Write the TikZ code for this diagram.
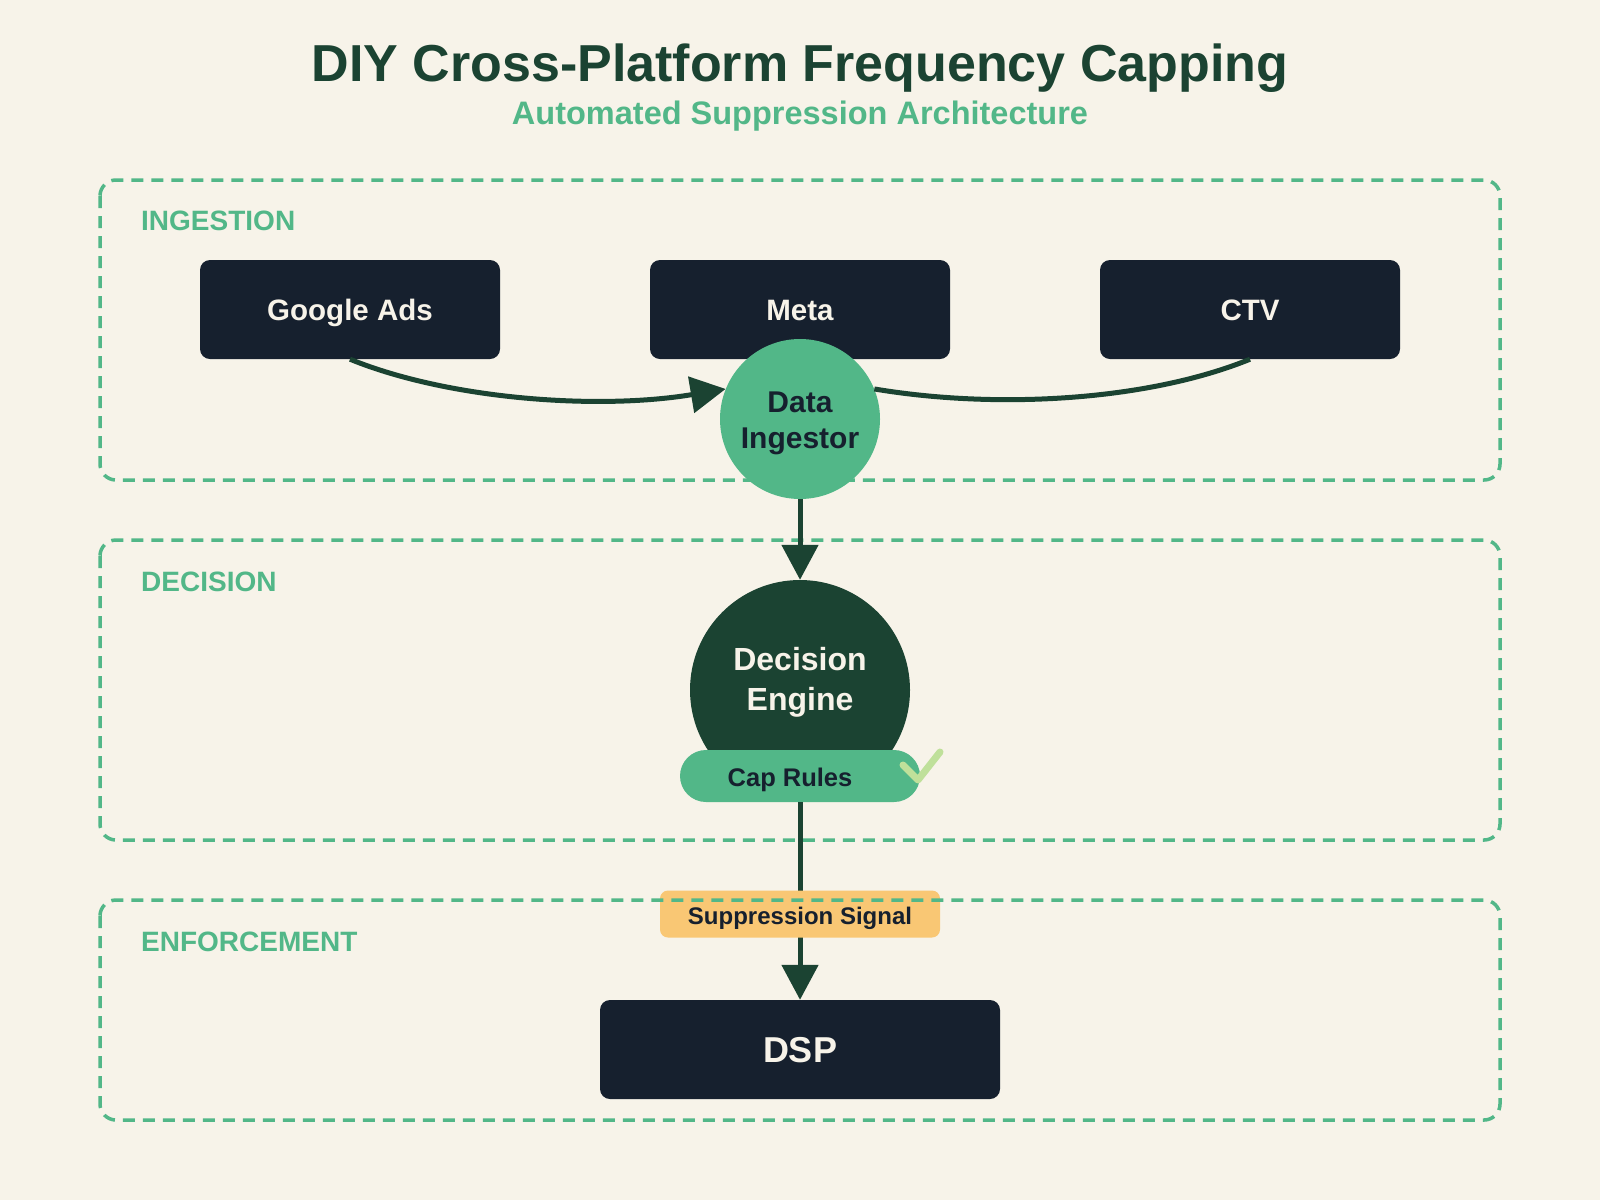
\documentclass[tikz,border=0pt]{standalone}
\usepackage{fontspec}
\setmainfont{Liberation Sans}
\usetikzlibrary{arrows.meta}
\definecolor{bgc}{HTML}{F7F3E9}
\definecolor{navy}{HTML}{16202E}
\definecolor{dgreen}{HTML}{1B4332}
\definecolor{mgreen}{HTML}{52B788}
\definecolor{sig}{HTML}{F9C774}
\definecolor{chk}{HTML}{BFE09A}
\tikzset{
  zone/.style={draw=mgreen, line width=3.5pt, dash pattern=on 12pt off 8pt, rounded corners=16pt},
  zonelabel/.style={anchor=base west, text=mgreen, font=\bfseries\fontsize{28}{32}\selectfont, inner sep=0},
  srcbox/.style={fill=navy, rounded corners=10pt, minimum width=300pt, minimum height=99pt, text=bgc,
    font=\bfseries\fontsize{29.5}{34}\selectfont, inner sep=0, text height=21pt, text depth=0pt},
  flow/.style={draw=dgreen, line width=5pt},
  tip/.style={-{Triangle[length=35pt,width=36pt]}},
}
\begin{document}
\begin{tikzpicture}[x=1pt,y=-1pt]
\useasboundingbox (0,0) rectangle (1600,1200);
\fill[bgc] (0,0) rectangle (1600,1200);
% zones
\draw[zone] (100,180) rectangle (1500,480);
\draw[zone] (100,540) rectangle (1500,840);
% sources
\node[srcbox] (google) at (350,309.5) {Google Ads};
\node[srcbox] (meta) at (800,309.5) {Meta};
\node[srcbox] (ctv) at (1250,309.5) {CTV};
% data ingestor
\node[circle, fill=mgreen, minimum size=160pt, inner sep=0] (di) at (800,419) {};
\node[anchor=base, align=center, text=navy, font=\bfseries\fontsize{30}{36}\selectfont, inner sep=0]
  (ditext) at (800,448.5) {Data\\Ingestor};
\draw[flow, tip] (google.south) .. controls (450,400) and (600,410) .. (di.158);
\draw[flow] (ctv.south) .. controls (1150,400) and (1000,410) .. (di.22);
% decision engine
\node[circle, fill=dgreen, minimum size=220pt, inner sep=0] (de) at (800,690) {};
\node[anchor=base, align=center, text=bgc, font=\bfseries\fontsize{32}{40}\selectfont, inner sep=0]
  (detext) at (800,710.5) {Decision\\Engine};
\draw[flow, tip] (di.south) -- (de.north);
\node[fill=mgreen, rounded corners=26pt, minimum width=240pt, minimum height=52pt, inner sep=0] (cap) at (800,776) {};
\node[text=navy, font=\bfseries\fontsize{25.5}{30}\selectfont, inner sep=0, text height=18.3pt, text depth=0pt]
  (captext) at (790,777) {Cap Rules};
\coordinate (c1) at (903,765);
\coordinate (c2) at (918,780);
\coordinate (c3) at (940,752);
\draw[chk, line width=7pt, line cap=round, line join=round] (c1) -- (c2) -- (c3);
% enforcement
\node[srcbox, minimum width=400pt, minimum height=99pt, font=\bfseries\fontsize{36}{40}\selectfont,
      text height=25.8pt] (dsp) at (800,1049.5) {DSP};
\draw[flow, tip] (cap.south) -- (dsp.north);
\node[fill=sig, rounded corners=8pt, minimum width=280pt, minimum height=47pt, inner sep=0, text=navy,
      font=\bfseries\fontsize{24}{28}\selectfont, text height=17.2pt, text depth=0pt] (signal) at (800,914) {};
\node[text=navy, font=\bfseries\fontsize{24}{28}\selectfont, inner sep=0, text height=17.2pt, text depth=0pt]
  (signaltext) at (800,916) {Suppression Signal};
\draw[zone] (100,900) rectangle (1500,1120);
% zone labels
\node[zonelabel] (lz1) at (141,230) {INGESTION};
\node[zonelabel] (lz2) at (141,591) {DECISION};
\node[zonelabel] (lz3) at (141,951) {ENFORCEMENT};
% title
\node[anchor=base, text=dgreen, font=\bfseries\fontsize{52}{60}\selectfont, inner sep=0] (title) at (800,81) {DIY Cross-Platform Frequency Capping};
\node[anchor=base, text=mgreen, font=\bfseries\fontsize{32.5}{38}\selectfont, inner sep=0] (subtitle) at (800,124) {Automated Suppression Architecture};
\end{tikzpicture}
\end{document}
